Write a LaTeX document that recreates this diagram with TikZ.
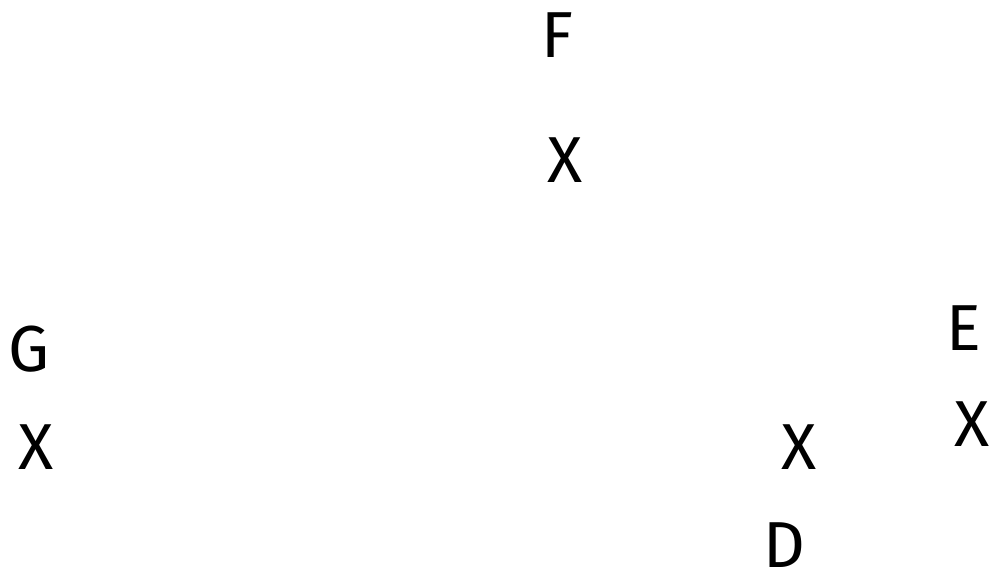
\documentclass[tikz,border=0pt]{standalone}
\usepackage{fontspec}
\setmainfont{Fira Sans}
\begin{document}
\begin{tikzpicture}[x=0.02cm,y=-0.02cm,
  lbl/.style={inner sep=0pt,font=\fontsize{37}{40}\selectfont\mdseries,text=black}]
\useasboundingbox (0,0) rectangle (1000,580);
\node[lbl] (F) at (557,35) {F};
\node[lbl] (xF) at (565,160) {X};
\node[lbl] (G) at (29,349) {G};
\node[lbl] (xG) at (36,447) {X};
\node[lbl] (E) at (964,328) {E};
\node[lbl] (xE) at (972,424) {X};
\node[lbl] (xD) at (799,447) {X};
\node[lbl] (D) at (784,545) {D};
\end{tikzpicture}
\end{document}
